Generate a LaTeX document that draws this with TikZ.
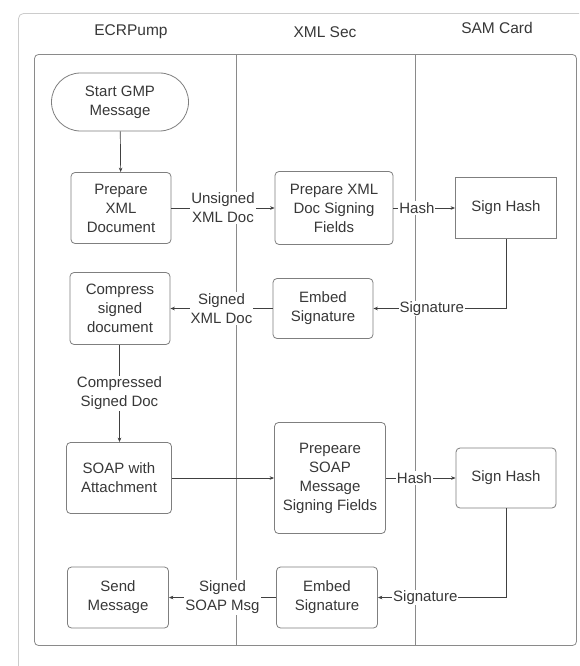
\documentclass[tikz,border=0pt]{standalone}
\usepackage{fontspec}
\setmainfont{Liberation Sans}
\usetikzlibrary{arrows.meta}
\definecolor{boxline}{HTML}{7F7F7F}
\definecolor{txt}{HTML}{383838}
\definecolor{laneline}{HTML}{8A8A8A}
\definecolor{frameline}{HTML}{CCCCCC}
\definecolor{arrline}{HTML}{404040}
\begin{document}
\begin{tikzpicture}[x=1pt,y=-1pt,
  every node/.style={font=\fontsize{15}{19}\selectfont, text=txt},
  box/.style={draw=boxline, line width=0.8pt, rounded corners=4pt, align=center, inner sep=0pt, fill=white},
  lbl/.style={fill=white, inner sep=1pt, align=center},
  arr/.style={draw=arrline, line width=0.7pt, -{Stealth[length=4.5pt,width=3.6pt]}},
  lane/.style={draw=laneline, line width=0.8pt, rounded corners=4pt},
  hdr/.style={font=\fontsize{15.5}{19}\selectfont}]
\useasboundingbox (0,0) rectangle (579,666);
\fill[white] (0,0) rectangle (579,666);
% outer frame
\draw[frameline, line width=0.8pt, rounded corners=5pt] (579,13.5) -- (18.5,13.5) -- (18.5,666);
% lanes
\draw[lane] (34.5,54.5) rectangle (576.5,645.5);
\draw[draw=laneline, line width=0.9pt] (236.5,54.5) -- (236.5,645.5);
\draw[draw=laneline, line width=0.9pt] (415.5,54.5) -- (415.5,645.5);
% headers
\node[hdr] (h1) at (131,32) {ECRPump};
\node[hdr] (h2) at (325,32) {XML Sec};
\node[hdr] (h3) at (497,28) {SAM Card};
% nodes
\node[box, minimum width=137pt, minimum height=58pt, rounded corners=29pt] (start) at (120,102) {Start GMP\\Message};
\node[box, minimum width=100pt, minimum height=71pt] (prepXML) at (121,208) {Prepare\\XML\\Document};
\node[box, minimum width=118pt, minimum height=73pt] (prepFields) at (334,208) {Prepare XML\\Doc Signing\\Fields};
\node[box, rounded corners=0pt, minimum width=101pt, minimum height=61pt] (sign1) at (506,208) {Sign Hash};
\node[box, minimum width=100pt, minimum height=72pt] (compress) at (120,308.5) {Compress\\signed\\document};
\node[box, minimum width=100pt, minimum height=60pt] (embed1) at (323,308.5) {Embed\\Signature};
\node[box, minimum width=105pt, minimum height=71pt] (soap) at (119,478) {SOAP with\\Attachment};
\node[box, minimum width=111pt, minimum height=111pt] (prepSOAP) at (330,478) {Prepeare\\SOAP\\Message\\Signing Fields};
\node[box, minimum width=100pt, minimum height=60pt] (sign2) at (506,478) {Sign Hash};
\node[box, minimum width=101pt, minimum height=61pt] (send) at (118,597.5) {Send\\Message};
\node[box, minimum width=101pt, minimum height=61pt] (embed2) at (327,597.5) {Embed\\Signature};
% connectors
\coordinate (c1) at (506,308.5);
\coordinate (c2) at (506,597.5);
\draw[arr] (start) -- (prepXML);
\draw[arr] (prepXML) -- node[lbl]{Unsigned\\XML Doc} (prepFields);
\draw[arr] (prepFields) -- node[lbl,pos=0.38]{Hash} (sign1);
\draw[arr] (sign1.south) -- (c1) -- node[lbl,pos=0.56]{Signature} (embed1.east);
\draw[arr] (embed1) -- node[lbl]{Signed\\XML Doc} (compress);
\draw[arr] (compress.south -| 119.5,0) -- node[lbl]{Compressed\\Signed Doc} (soap.north -| 119.5,0);
\draw[arr] (soap) -- (prepSOAP);
\draw[arr] (prepSOAP) -- node[lbl,pos=0.41]{Hash} (sign2);
\draw[arr] (sign2.south) -- (c2) -- node[lbl,pos=0.63]{Signature} (embed2.east);
\draw[arr] (embed2) -- node[lbl]{Signed\\SOAP Msg} (send);
\end{tikzpicture}
\end{document}
